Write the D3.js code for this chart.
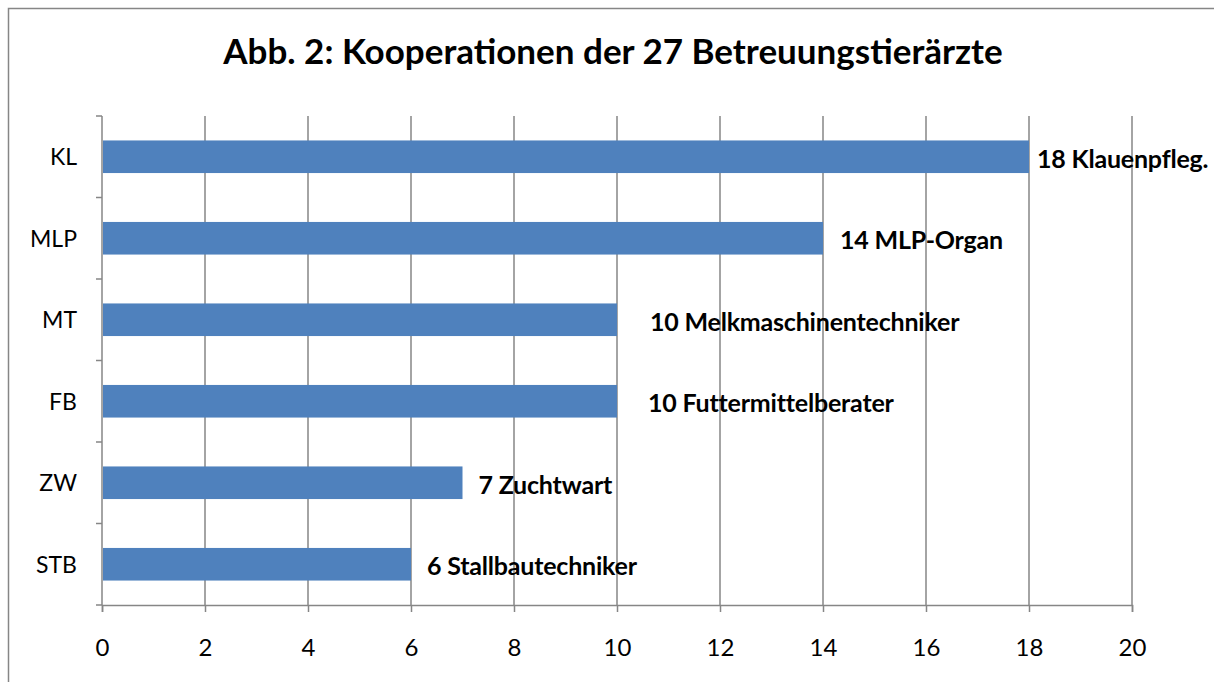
<!DOCTYPE html>
<html>
<head>
<meta charset="utf-8">
<script src="https://cdn.jsdelivr.net/npm/d3@7"></script>
<style>
  body { margin: 0; background: #fff; }
  svg { display: block; font-family: Lato, "Open Sans", sans-serif; }
</style>
</head>
<body>
<div id="chart"></div>
<script>
// Chart data
const categories = ["KL", "MLP", "MT", "FB", "ZW", "STB"];
const values = [18, 14, 10, 10, 7, 6];
const labels = ["18 Klauenpfleg.", "14 MLP-Organ", "10 Melkmaschinentechniker",
                "10 Futtermittelberater", "7 Zuchtwart", "6 Stallbautechniker"];
const xTicks = [0, 2, 4, 6, 8, 10, 12, 14, 16, 18, 20];
const title = "Abb. 2: Kooperationen der 27 Betreuungstierärzte";

// label nudges (px right of bar end), the labels were moved by hand in the original
const labelNudge = [8, 17, 33, 31, 16, 16];

const W = 1214, H = 682;
const plot = { left: 102, right: 1132, top: 116, bottom: 605 };
const gridColor = "#868686";

const svg = d3.select("#chart").append("svg")
    .attr("width", W)
    .attr("height", H);

// outer chart frame (runs off the right and bottom edge)
svg.append("rect")
    .attr("x", 8.5).attr("y", 8.5)
    .attr("width", W + 20).attr("height", H + 20)
    .attr("fill", "#fff")
    .attr("stroke", "#868686")
    .attr("stroke-width", 1.5);

// title
svg.append("text")
    .attr("x", 613)
    .attr("y", 64)
    .attr("text-anchor", "middle")
    .style("font-size", "35px")
    .style("font-weight", "bold")
    .text(title);

// scales
const x = d3.scaleLinear()
    .domain([0, 20])
    .range([plot.left, plot.right]);

const y = d3.scaleBand()
    .domain(categories)
    .range([plot.top, plot.bottom])
    .paddingInner(0.6)
    .paddingOuter(0.3);

// vertical gridlines
svg.append("g")
    .selectAll("line")
    .data(xTicks.slice(1))
    .enter()
    .append("line")
    .attr("x1", d => x(d)).attr("x2", d => x(d))
    .attr("y1", plot.top).attr("y2", plot.bottom)
    .attr("stroke", gridColor)
    .attr("stroke-width", 1.5);

// x axis
const xAxis = d3.axisBottom(x)
    .tickValues(xTicks)
    .tickSize(7)
    .tickPadding(27)
    .tickFormat(d3.format("d"));

const gx = svg.append("g")
    .attr("transform", `translate(0, ${plot.bottom})`)
    .call(xAxis);
gx.select(".domain").attr("stroke", gridColor).attr("stroke-width", 1.5);
gx.selectAll(".tick line").attr("stroke", gridColor).attr("stroke-width", 1.5);
gx.selectAll(".tick text")
    .attr("fill", "#000")
    .style("font-size", "24px")
    .style("font-family", "Lato, sans-serif");

// y axis: line plus ticks on band boundaries
svg.append("line")
    .attr("x1", plot.left).attr("x2", plot.left)
    .attr("y1", plot.top).attr("y2", plot.bottom)
    .attr("stroke", gridColor)
    .attr("stroke-width", 1.5);

const step = y.step();
const boundaries = d3.range(categories.length + 1).map(i => plot.top + i * step);
svg.append("g")
    .selectAll("line")
    .data(boundaries)
    .enter()
    .append("line")
    .attr("x1", plot.left - 6).attr("x2", plot.left)
    .attr("y1", d => d).attr("y2", d => d)
    .attr("stroke", gridColor)
    .attr("stroke-width", 1.5);

svg.append("g")
    .selectAll("text")
    .data(categories)
    .enter()
    .append("text")
    .attr("x", 77)
    .attr("y", d => y(d) + y.bandwidth() / 2)
    .attr("dy", "0.36em")
    .attr("text-anchor", "end")
    .style("font-size", "23px")
    .text(d => d);

// bars
svg.append("g")
    .selectAll("rect")
    .data(values)
    .enter()
    .append("rect")
    .attr("x", x(0) + 1)
    .attr("y", (d, i) => y(categories[i]))
    .attr("width", d => x(d) - x(0) - 1)
    .attr("height", y.bandwidth())
    .attr("fill", "#4F81BD");

// data labels
svg.append("g")
    .selectAll("text")
    .data(values)
    .enter()
    .append("text")
    .attr("x", (d, i) => x(d) + labelNudge[i])
    .attr("y", (d, i) => y(categories[i]) + y.bandwidth() / 2 + 2)
    .attr("dy", "0.36em")
    .style("font-size", "25px")
    .style("letter-spacing", "-0.2px")
    .style("font-weight", "bold")
    .text((d, i) => labels[i]);
</script>
</body>
</html>
